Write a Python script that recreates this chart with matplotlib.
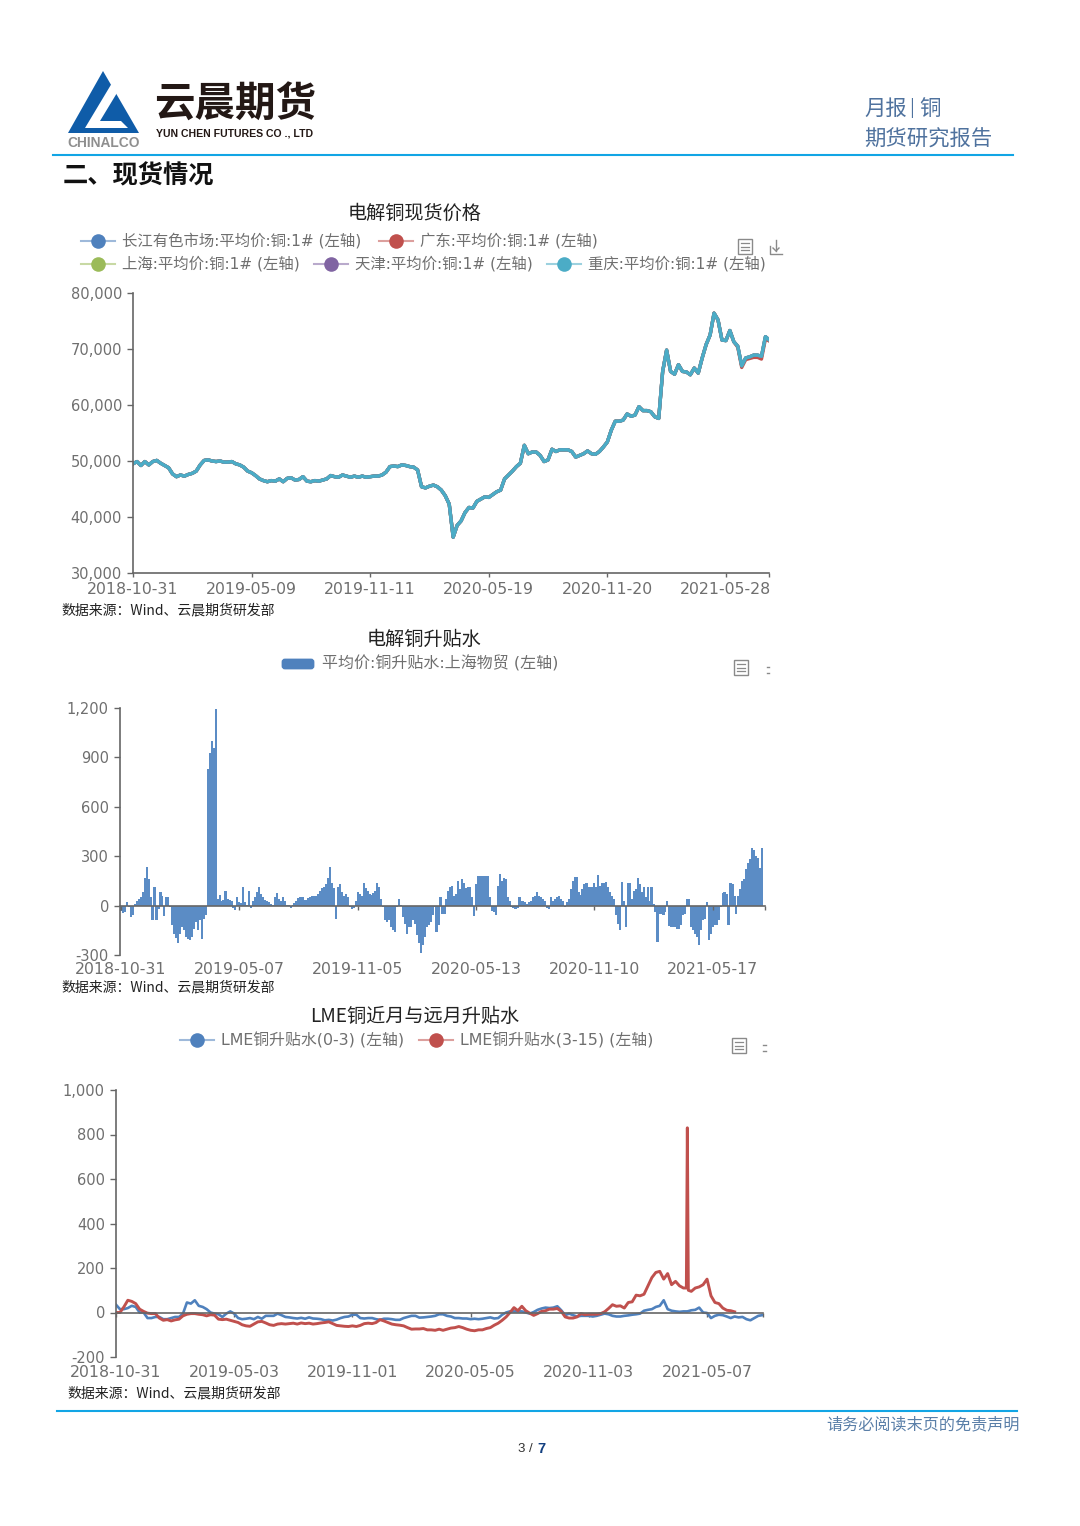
import matplotlib
matplotlib.use('Agg')
import matplotlib.pyplot as plt
from matplotlib.patches import Polygon, Rectangle, FancyBboxPatch

plt.rcParams['font.family'] = ['Noto Sans CJK SC', 'DejaVu Sans']

W, H = 1080, 1526

# 现货价格: 五条线基本重合, 每 30 个点一个刻度
price_ticks = ['2018-10-31', '2019-05-09', '2019-11-11', '2020-05-19', '2020-11-20', '2021-05-28']
spot_price = [49500, 49900, 49200, 49900, 49300, 49900, 50100, 49600, 49200, 48800,
              47700, 47200, 47500, 47300, 47600, 47800, 48200, 49300, 50100, 50200,
              50000, 49900, 50000, 49800, 49800, 49900, 49500, 49300, 48900, 48200,
              47900, 47400, 46800, 46500, 46300, 46500, 46400, 46800, 46300, 46900,
              47000, 46600, 46700, 47200, 46400, 46300, 46500, 46400, 46600, 46800,
              47400, 47200, 47100, 47500, 47300, 47100, 47300, 47100, 47300, 47100,
              47200, 47300, 47300, 47500, 48000, 49000, 49100, 49000, 49300, 49200,
              49000, 48900, 48400, 45400, 45200, 45500, 45700, 45400, 44800, 43800,
              42300, 36400, 38500, 39300, 40800, 41700, 41600, 42800, 43200, 43600,
              43500, 44000, 44500, 44800, 46800, 47500, 48200, 49000, 49600, 52800,
              51300, 51600, 51600, 51000, 49900, 50200, 52100, 51700, 52000, 52000,
              52000, 51700, 50700, 51000, 51300, 51800, 51300, 51200, 51700, 52500,
              53400, 55500, 57100, 57100, 57300, 58400, 58000, 58200, 59700, 59000,
              59000, 58800, 57900, 57600, 66000, 69800, 66000, 65500, 67200, 66000,
              65900, 65400, 66600, 65700, 68400, 70800, 72500, 76400, 75200, 71600,
              71500, 73300, 71300, 70500, 67000, 68400, 68600, 68900, 68900, 68700,
              72200, 71600]
changjiang = spot_price
guangdong = spot_price[:-9] + [70300, 66700, 68100, 68300, 68500, 68500, 68200, 71800, 71400]
shanghai = spot_price
tianjin = spot_price
chongqing = spot_price

# 升贴水柱状图: 每 60 根一个刻度
basis_ticks = ['2018-10-31', '2019-05-07', '2019-11-05', '2020-05-13', '2020-11-10', '2021-05-17']
basis = [-30, -45, -40, 20, -10, -70, -55, 10, 30, 40, 55, 80, 170, 235, 160, 50, -85, 115, -85, -20,
         80, 60, -65, 50, 50, -10, -120, -170, -195, -230, -170, -130, -150, -190, -200, -210, -190, -140, -100, -150,
         -90, -205, -80, -60, 830, 925, 1000, 960, 1195, 40, 65, 25, 35, 90, 40, 35, 25, -15, -25, 50,
         20, 15, 110, 20, 5, 90, -15, 30, 55, 85, 115, 70, 50, 35, 30, 20, 10, 5, 50, 75,
         40, 30, 50, 25, 5, 5, -15, 5, 15, 25, 45, 55, 50, 35, 35, 45, 55, 60, 60, 60,
         70, 90, 105, 110, 130, 165, 235, 140, 105, -80, 110, 130, 80, 60, 70, 50, -10, -20, -15, 30,
         80, 70, 60, 135, 105, 90, 70, 65, 75, 90, 140, 110, 40, -10, -90, -100, -90, -130, -150, -160,
         -10, 40, 5, -70, -110, -170, -130, -130, -90, -110, -180, -230, -290, -240, -190, -130, -120, -100, -60, -10,
         -160, -120, 50, -50, -50, 40, 90, 115, 120, 60, 70, 150, 100, 160, 140, 105, 115, 115, 50, -65,
         130, 180, 180, 180, 180, 180, 180, 50, -30, -40, -55, 120, 190, 150, 165, 160, 50, 30, -10, -15,
         -20, -15, 50, 25, 25, 20, 10, 20, 25, 50, 60, 85, 60, 55, 40, 25, -15, -20, 55, 30,
         40, 55, 60, 40, 30, -10, 20, 40, 100, 150, 175, 175, 80, 65, 100, 130, 135, 115, 110, 115,
         140, 110, 185, 120, 135, 140, 145, 110, 85, 60, 40, -60, -110, -150, 145, 30, -130, 140, 140, 40,
         90, 100, 170, 130, 80, 115, 50, 110, 30, 110, 10, -40, -220, -50, -50, -60, -40, 30, -125, -130,
         -130, -130, -140, -145, -120, -60, -50, 40, 40, -130, -150, -170, -190, -240, -150, -90, -80, 20, -210, -170,
         -130, -120, -120, -90, -10, 75, 80, 70, -120, 140, 130, 60, -50, 60, 100, 150, 160, 220, 260, 280,
         350, 340, 300, 290, 230, 350]

# LME 升贴水: 每 4 个交易日读一个点, 红线尖峰处多读两点
lme_ticks = ['2018-10-31', '2019-05-03', '2019-11-01', '2020-05-05', '2020-11-03', '2021-05-07']
lme_0_3 = [35, 15, 15, 20, 30, 25, 0, 0, -25, -25, -20, -20, -30, -30, -25, -20, -20, -5, 45, 40,
           55, 30, 25, 15, 0, -5, -8, -20, -5, 5, -5, -25, -30, -28, -25, -30, -20, -28, -15, -15,
           -15, -5, -12, -20, -22, -25, -27, -24, -28, -22, -27, -28, -30, -35, -33, -36, -32, -25, -20, -18,
           -10, -10, -25, -27, -25, -25, -30, -33, -28, -28, -30, -33, -33, -25, -20, -15, -15, -23, -22, -20,
           -18, -15, -8, -8, -15, -18, -25, -25, -27, -27, -30, -28, -30, -28, -25, -22, -27, -25, -10, 0,
           5, 5, 5, 5, 0, -5, 2, 12, 18, 22, 20, 22, 28, 10, -12, -5, -12, -18, -15, -15,
           -15, -18, -15, -10, -5, -8, -15, -18, -18, -15, -13, -10, -8, -5, 8, 12, 15, 25, 30, 55,
           15, 8, 5, 3, 5, 5, 10, 12, 22, 0, -2, -25, -15, -10, -12, -18, -25, -18, -22, -20,
           -30, -35, -25, -15, -12]
lme_0_3_days = [4 * i for i in range(len(lme_0_3))]
lme_3_15 = [0, 0, 25, 55, 50, 40, 15, 5, -3, -5, -5, -25, -35, -32, -38, -33, -30, -15, -8, -5,
            -5, -8, -10, -15, -10, -12, -30, -32, -30, -35, -40, -45, -55, -60, -62, -52, -42, -40, -47, -55,
            -58, -52, -50, -52, -50, -48, -52, -47, -50, -48, -52, -50, -47, -45, -42, -50, -58, -60, -62, -63,
            -60, -63, -58, -50, -48, -50, -45, -32, -38, -45, -52, -55, -57, -60, -68, -75, -74, -74, -72, -78,
            -78, -80, -75, -80, -75, -70, -68, -63, -68, -75, -80, -82, -78, -78, -72, -68, -57, -48, -35, -20,
            0, 22, 8, 28, 8, -3, -13, -5, 5, 8, 15, 15, 18, 5, -20, -25, -25, -20, -5, -10,
            -8, -8, -8, -5, 3, 18, 35, 28, 30, 20, 45, 48, 78, 75, 82, 120, 157, 180, 185, 150,
            175, 125, 140, 120, 110, 110, 830, 100, 95, 110, 115, 125, 150, 75, 45, 40, 20, 10, 8, 3]
lme_3_15_days = sorted([4 * i for i in range(158)] + [579, 581])

line_col = '#666666'
text_col = '#6f6f6f'
colors = {'blue': '#4f81bd', 'red': '#c0504d', 'green': '#9bbb59', 'purple': '#8064a2', 'teal': '#4bacc6'}
legend_fonts = ['DejaVu Sans', 'Noto Sans CJK SC']


def make_axes(x0, y0, x1, y1):
    ax = fig.add_axes([x0 / W, 1 - y1 / H, (x1 - x0) / W, (y1 - y0) / H])
    ax.patch.set_alpha(0)
    for s in ['top', 'right']:
        ax.spines[s].set_visible(False)
    for s in ['left', 'bottom']:
        ax.spines[s].set_color(line_col)
        ax.spines[s].set_linewidth(1.2)
    return ax


def style_axis(ax, xticks, xlabels, yticks, ylabels, pad):
    ax.set_xticks(xticks + [ax.get_xlim()[1]])
    ax.set_xticklabels(xlabels + [''])
    ax.set_yticks(yticks)
    ax.set_yticklabels(ylabels)
    ax.tick_params(axis='x', length=3, width=1, color=line_col, labelcolor=text_col, labelsize=11.3, pad=pad,
                   labelfontfamily='DejaVu Sans')
    ax.tick_params(axis='y', length=4.5, width=1, color=line_col, labelcolor=text_col, labelsize=10.5, pad=3.5,
                   labelfontfamily='DejaVu Sans')


fig = plt.figure(figsize=(W / 100, H / 100), dpi=100)

# 图一
ax1 = make_axes(133, 293, 769, 573)
ax1.set_xlim(0, 160.9)
ax1.set_ylim(30000, 80000)
for vals, c in [(changjiang, 'blue'), (guangdong, 'red'), (shanghai, 'green'), (tianjin, 'purple'), (chongqing, 'teal')]:
    ax1.plot(range(len(vals)), vals, color=colors[c], lw=2.4, solid_joinstyle='round')
style_axis(ax1, list(range(0, 151, 30)), price_ticks,
           list(range(30000, 80001, 10000)), [f'{v:,}' for v in range(30000, 80001, 10000)], 3.2)

# 图二
ax2 = make_axes(120, 708, 765, 955)
ax2.set_xlim(-0.5, 326.5)
ax2.set_ylim(-300, 1200)
ax2.bar(range(len(basis)), basis, width=1.1, color='#5b8cc5', linewidth=0)
ax2.spines['bottom'].set_position(('data', 0))
style_axis(ax2, list(range(0, 301, 60)), basis_ticks,
           list(range(-300, 1201, 300)), [f'{v:,}' for v in range(-300, 1201, 300)], 37.6)

# 图三
ax3 = make_axes(116, 1090, 763, 1357)
ax3.set_xlim(0, 656.8)
ax3.set_ylim(-200, 1000)
ax3.plot(lme_0_3_days, lme_0_3, color=colors['blue'], lw=1.9, solid_joinstyle='round')
ax3.plot(lme_3_15_days, lme_3_15, color=colors['red'], lw=2.1, solid_joinstyle='round')
ax3.spines['bottom'].set_position(('data', 0))
style_axis(ax3, list(range(0, 601, 120)), lme_ticks,
           list(range(-200, 1001, 200)), [f'{v:,}' for v in range(-200, 1001, 200)], 35)

# 页面层: 像素坐标
page = fig.add_axes([0, 0, 1, 1], zorder=-1)
page.set_xlim(0, W)
page.set_ylim(H, 0)
page.axis('off')


def put(x, y, s, size, color='#222222', ha='left', weight='normal', **kw):
    page.text(x, y, s, fontsize=size, color=color, ha=ha, va='center', fontweight=weight, **kw)


# 页眉
page.add_patch(Polygon([(103, 71), (68, 133), (139, 133)], color='#0f5ca8', lw=0))
page.add_patch(Polygon([(112, 83), (123, 83), (100, 121), (121, 121), (128, 128), (85, 128)], color='white', lw=0))
put(103.5, 143, 'CHINALCO', 9.9, '#8f8f8f', ha='center', weight='bold', family='Liberation Sans')
put(154, 105, '云晨期货', 29.2, '#231815', weight='bold')
put(156, 133.5, 'YUN CHEN FUTURES CO ., LTD', 7.6, '#231815', weight='bold', family='Liberation Sans')
put(864, 109, '月报', 15.4, '#4f729e')
put(912, 108, '|', 13, '#4f729e', ha='center')
put(919, 109, '铜', 15.4, '#4f729e')
put(864, 140, '期货研究报告', 15.4, '#4f729e')
page.plot([53, 1013], [155, 155], color='#12a5e5', lw=1.5)
put(63, 176, '二、现货情况', 18.2, '#111111', weight='bold')

# 标题
put(415, 213, '电解铜现货价格', 13.8, '#222222', ha='center')
put(424, 639, '电解铜升贴水', 13.8, '#222222', ha='center')
put(415, 1016, 'LME铜近月与远月升贴水', 13.8, '#222222', ha='center')


def legend_item(x, y, c, label, size=11.1):
    page.plot([x, x + 34], [y, y], color=colors[c], lw=1.5, alpha=0.55)
    page.plot([x + 17], [y], 'o', color=colors[c], ms=10.5, mew=0)
    put(x + 41, y, label, size, text_col, family=legend_fonts)


legend_item(81, 241, 'blue', '长江有色市场:平均价:铜:1# (左轴)')
legend_item(379, 241, 'red', '广东:平均价:铜:1# (左轴)')
legend_item(81, 264, 'green', '上海:平均价:铜:1# (左轴)')
legend_item(314, 264, 'purple', '天津:平均价:铜:1# (左轴)')
legend_item(547, 264, 'teal', '重庆:平均价:铜:1# (左轴)')
page.add_patch(FancyBboxPatch((283, 660), 30, 8, boxstyle='round,pad=0,rounding_size=2', color=colors['blue'], lw=2))
put(322, 663.5, '平均价:铜升贴水:上海物贸 (左轴)', 11.5, text_col, family=legend_fonts)
legend_item(180, 1040, 'blue', 'LME铜升贴水(0-3) (左轴)', 11.4)
legend_item(419, 1040, 'red', 'LME铜升贴水(3-15) (左轴)', 11.4)


def doc_icon(x, y):
    page.add_patch(Rectangle((x, y), 14, 15, fill=False, ec='#8a8a8a', lw=1))
    for k in [4, 7.5, 11]:
        page.plot([x + 3, x + 11], [y + k, y + k], color='#8a8a8a', lw=0.9)


doc_icon(738, 239)
page.plot([770, 770, 782], [246, 254, 254], color='#8a8a8a', lw=1)
page.plot([776, 776], [240, 251], color='#8a8a8a', lw=1)
page.plot([773, 776, 779], [248, 251, 248], color='#8a8a8a', lw=1)
doc_icon(734, 660)
page.plot([767, 769], [667, 667], color='#8a8a8a', lw=1)
page.plot([767, 769], [673, 673], color='#8a8a8a', lw=1)
doc_icon(732, 1038)
page.plot([763, 766], [1045, 1045], color='#8a8a8a', lw=1)
page.plot([763, 766], [1051, 1051], color='#8a8a8a', lw=1)

# 数据来源
put(61.5, 610, '数据来源：Wind、云晨期货研发部', 10)
put(61.5, 987, '数据来源：Wind、云晨期货研发部', 10)
put(67.5, 1393, '数据来源：Wind、云晨期货研发部', 10)

# 页脚
page.plot([57, 1017], [1411, 1411], color='#12a5e5', lw=1.5)
put(1020, 1425, '请务必阅读末页的免责声明', 11.6, '#5a7fa8', ha='right')
put(518, 1449, '3 /', 9.5, '#333333', family='Liberation Sans')
put(537, 1449, '7', 10.5, '#123f80', weight='bold', family='Liberation Sans')

fig.savefig('out.png', dpi=100)
